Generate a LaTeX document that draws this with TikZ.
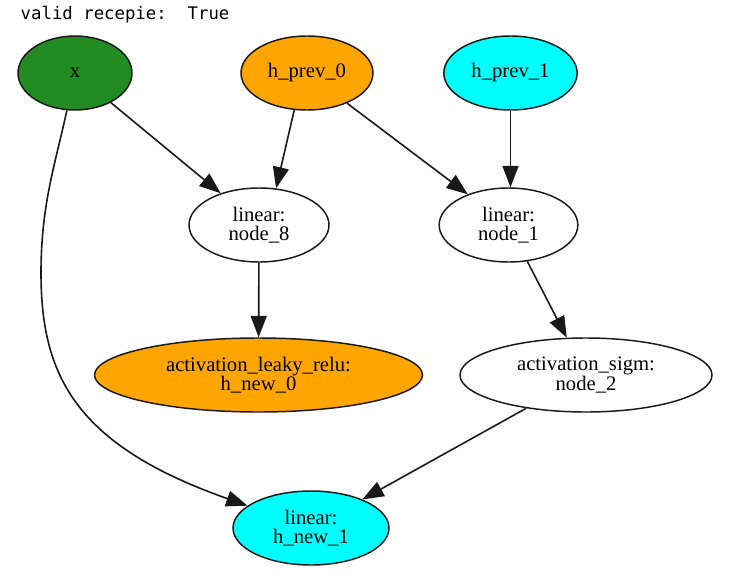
\documentclass[tikz,border=0pt]{standalone}
\usepackage{fontspec}
\usetikzlibrary{shapes.geometric,arrows.meta}
\newfontfamily\gvserif{Liberation Serif}
\newfontfamily\gvmono{DejaVu Sans Mono}
\newcommand{\vartext}{\gvserif\fontsize{15.5pt}{14.6pt}\selectfont}
\tikzset{
  var/.style={ellipse, draw=black!90, line width=1.1pt, inner sep=0pt,
    minimum height=55.5pt, align=center, font=\vartext},
  edge/.style={draw=black!90, line width=1.2pt,
    -{Triangle[length=16pt,width=12pt]}}
}
\begin{document}
\begin{tikzpicture}[x=0.75pt,y=-0.75pt]
  \useasboundingbox (0,0) rectangle (737,585);

  \node[anchor=west, font=\gvmono\fontsize{13pt}{15pt}\selectfont] (title) at (16,15) {valid recepie:\ \ True};

  %entradas
  \node[var, fill={rgb,255:red,34;green,139;blue,34}, minimum width=85.5pt] (x) at (75,73) {x};
  \node[var, fill={rgb,255:red,255;green,165;blue,0}, minimum width=99pt] (hprev0) at (307,73) {h\_prev\_0};
  \node[var, fill={rgb,255:red,0;green,255;blue,255}, minimum width=100pt] (hprev1) at (510.5,73) {h\_prev\_1};

  %camadas lineares
  \node[var, minimum width=105pt] (node8) at (259,225) {linear:\\node\_8};
  \node[var, minimum width=104pt] (node1) at (508.5,225) {linear:\\node\_1};

  %ativacoes
  \node[var, fill={rgb,255:red,255;green,165;blue,0}, minimum width=246pt] (hnew0) at (258.5,375) {activation\_leaky\_relu:\\h\_new\_0};
  \node[var, minimum width=189pt] (node2) at (586,375) {activation\_sigm:\\node\_2};

  %saida
  \node[var, fill={rgb,255:red,0;green,255;blue,255}, minimum width=117pt] (hnew1) at (311,528) {linear:\\h\_new\_1};

  \coordinate (bend) at (41,273);

  \draw[edge] (x) -- (node8);
  \draw[edge] (hprev0.251) -- (node8.65);
  \draw[edge] (hprev0) -- (node1);
  \draw[edge] (hprev1.south) -- (node1.north -| hprev1.south);
  \draw[edge] (node8) -- (hnew0);
  \draw[edge] (node1) -- (node2);
  \draw[edge] (node2) -- (hnew1);
  \draw[edge] (x) .. controls (55,165) and (41,205) .. (bend) .. controls (41,375) and (75,445) .. (hnew1);
\end{tikzpicture}
\end{document}
